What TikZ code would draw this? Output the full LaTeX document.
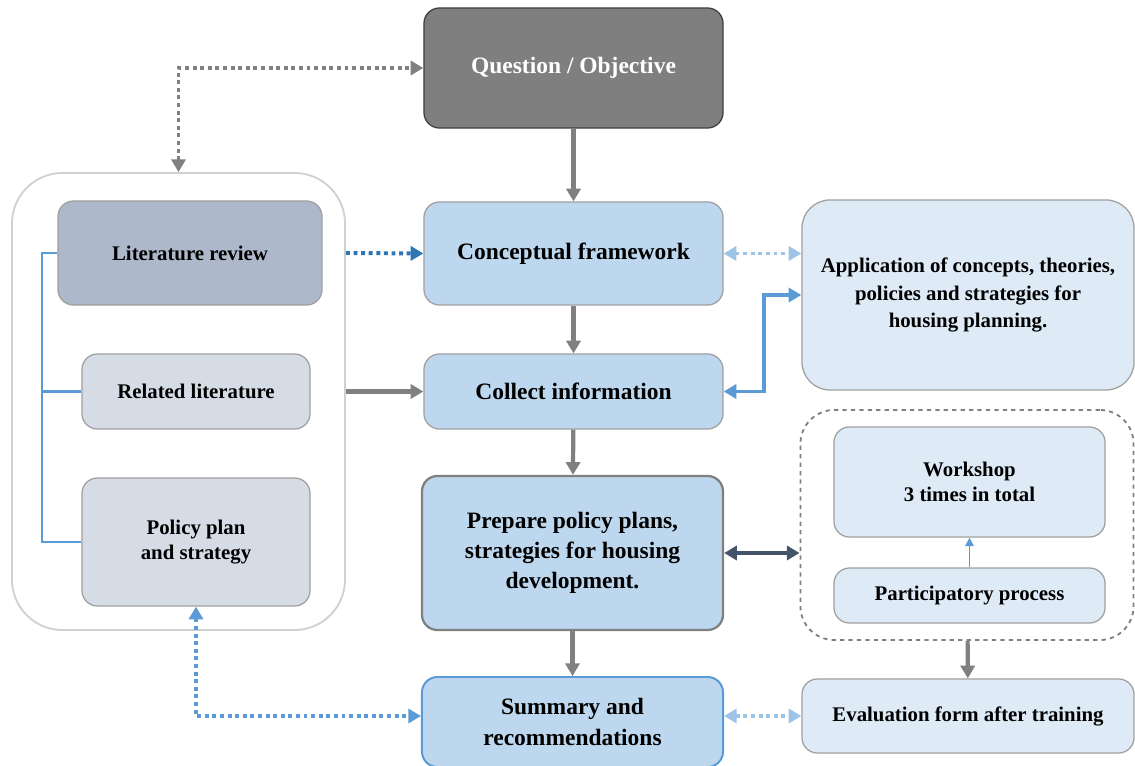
\documentclass[tikz,border=0pt]{standalone}
\usepackage{fontspec}
\setmainfont{Liberation Serif}[BoldFont={Liberation Serif Bold}]
\usepackage{xcolor}
\usepackage{tikz}
\usetikzlibrary{arrows.meta,positioning}

\definecolor{qfill}{HTML}{7F7F7F}
\definecolor{qline}{HTML}{404040}
\definecolor{mainfill}{HTML}{BDD7EE}
\definecolor{sidefill}{HTML}{DEEBF7}
\definecolor{litfill}{HTML}{ADB9CA}
\definecolor{relfill}{HTML}{D6DCE5}
\definecolor{boxline}{HTML}{A0A0A0}
\definecolor{arrowgray}{HTML}{808080}
\definecolor{linkblue}{HTML}{5B9BD5}
\definecolor{deepblue}{HTML}{2E75B6}
\definecolor{paleblue}{HTML}{9DC3E6}
\definecolor{slate}{HTML}{44546A}
\definecolor{groupline}{HTML}{D0D0D0}

\newcommand{\bigtext}{\fontsize{16.7}{21.5}\selectfont\bfseries}
\newcommand{\smalltext}{\fontsize{14.8}{18}\selectfont\bfseries}

\begin{document}
\begin{tikzpicture}[x=0.025cm,y=-0.025cm,>={Triangle[length=9pt,width=10pt]},
  box/.style={draw=boxline,line width=0.9pt,rounded corners=11pt,align=center,inner sep=0pt},
  mainbox/.style={box,fill=mainfill,font=\bigtext},
  sidebox/.style={box,fill=sidefill,font=\smalltext},
  flow/.style={->,draw=arrowgray,line width=3pt},
  dots/.style={line width=2.8pt,dash pattern=on 2.8pt off 2.6pt}]

	\useasboundingbox (0,0) rectangle (1135,766);

    % The left group
	\node [draw=groupline,line width=1.3pt,rounded corners=36pt,
	       minimum width=8.325cm,minimum height=11.425cm] at (178.5,401.5) (litgroup) {};
	\node [box,fill=litfill,font=\smalltext,minimum width=6.6cm,minimum height=2.6cm]
	      at (190,253) (litreview) {Literature review};
	\node [box,fill=relfill,font=\smalltext,minimum width=5.7cm,minimum height=1.875cm]
	      at (196,391.5) (related) {Related literature};
	\node [box,fill=relfill,font=\smalltext,minimum width=5.7cm,minimum height=3.2cm]
	      at (196,542) (policy) {Policy plan\\and strategy};
	\coordinate (brace) at (42,0);

    % The main column
	\node [box,fill=qfill,draw=qline,text=white,font=\bigtext,minimum width=7.475cm,minimum height=3cm]
	      at (573.5,68) (question) {Question / Objective};
	\node [mainbox,minimum width=7.475cm,minimum height=2.575cm] at (573.5,253.5) (concept) {Conceptual framework};
	\node [mainbox,minimum width=7.475cm,minimum height=1.875cm] at (573.5,391.5) (collect) {Collect information};
	\node [mainbox,draw=arrowgray,line width=1.6pt,minimum width=7.525cm,minimum height=3.85cm]
	      at (572.5,553) (prepare) {Prepare policy plans,\\strategies for housing\\development.};
	\node [mainbox,draw=linkblue,line width=1.4pt,minimum width=7.525cm,minimum height=2.25cm]
	      at (572.5,722) (summary) {Summary and\\recommendations};

    % The right column
	\node [sidebox,font=\fontsize{14.8}{19.5}\selectfont\bfseries,rounded corners=20pt,minimum width=8.3cm,minimum height=4.75cm]
	      at (968,295) (application) {Application of concepts, theories,\\policies and strategies for\\housing planning.};
	\node [draw=arrowgray,line width=1.3pt,dashed,rounded corners=24pt,minimum width=8.325cm,minimum height=5.75cm]
	      at (967,525) (partgroup) {};
	\node [sidebox,minimum width=6.775cm,minimum height=2.75cm] at (969.5,482) (workshop) {Workshop\\3 times in total};
	\node [sidebox,minimum width=6.775cm,minimum height=1.375cm] at (969.5,595.5) (particip) {Participatory process};
	\node [sidebox,minimum width=8.3cm,minimum height=1.85cm] at (968,716) (evaluation) {Evaluation form after training};

	% Graph edges
	\draw[flow] (question) -- (concept);
	\draw[flow] (concept) -- (collect);
	\draw[flow] (collect) -- (prepare);
	\draw[flow] (prepare) -- (summary);
	\draw[flow] (partgroup) -- (evaluation);
	\draw[flow] (litgroup.east |- related) -- (collect.west);

	\draw[->,draw=linkblue,line width=1.3pt,>={Triangle[length=6pt,width=6pt]}] (particip) -- (workshop);
	\draw[<->,draw=slate,line width=3pt] (prepare.east) -- (prepare.east -| partgroup.west);
	\draw[<->,draw=linkblue,line width=2.6pt] (collect.east) -- ++(40,0) |- (application.west);

	% Dotted links
	\draw[<->,dots,draw=arrowgray] (litgroup.north) |- (question.west);
	\draw[->,dots,draw=deepblue] (litgroup.east |- litreview) -- (concept.west);
	\draw[<->,dots,draw=paleblue] (concept.east) -- (concept.east -| application.west);
	\draw[<->,dots,draw=paleblue] (summary.east |- evaluation.west) -- (evaluation.west);
	\draw[<->,dots,draw=linkblue] (policy.south) |- (summary.west |- evaluation.west);

	% Bracket of the literature group
	\draw[draw=linkblue,line width=1.5pt] (litreview.west) -- (litreview.west -| brace) |- (policy.west);
	\draw[draw=linkblue,line width=1.5pt] (related.west) -- (related.west -| brace);

\end{tikzpicture}
\end{document}
